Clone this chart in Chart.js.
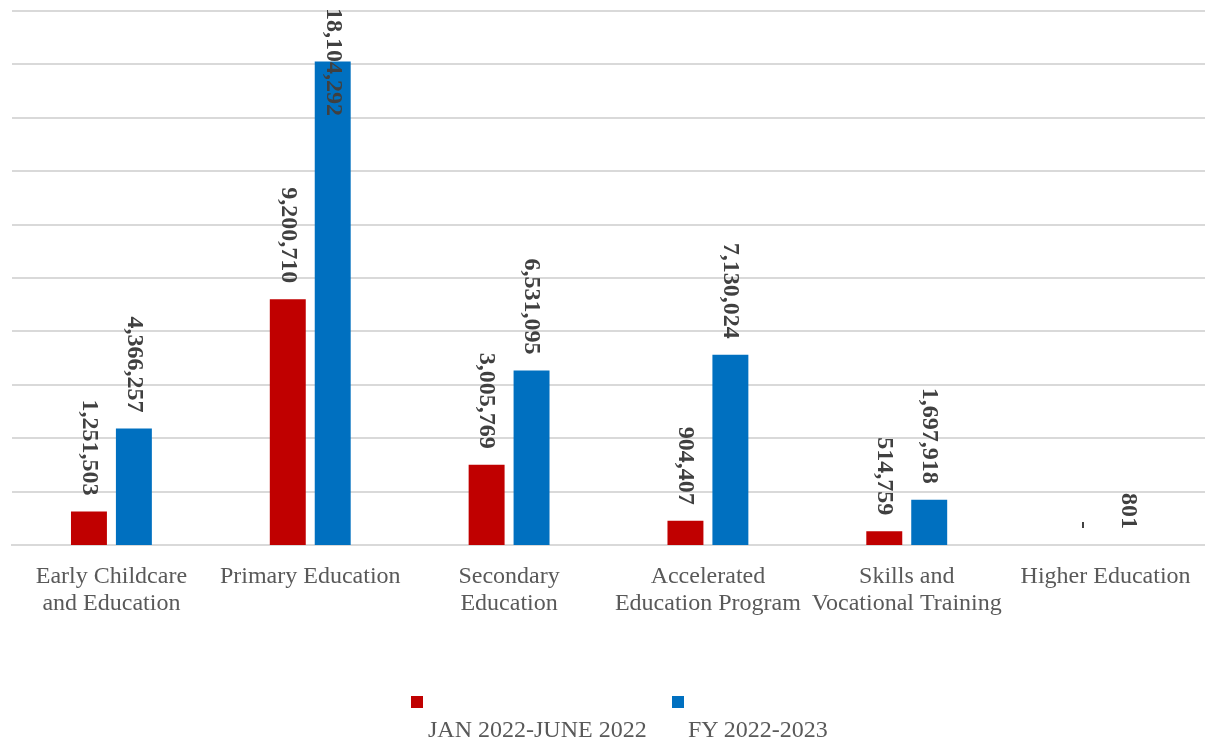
<!DOCTYPE html>
<html>
<head>
<meta charset="utf-8">
<script src="https://cdn.jsdelivr.net/npm/chart.js@4"></script>
<style>
  html, body { margin: 0; padding: 0; background: #fff; }
  #wrap { position: relative; width: 1205px; height: 740px; }
  #c { position: absolute; left: 0; top: 0; }
  .lg-box { position: absolute; width: 12px; height: 12px; }
  .lg-text { position: absolute; font: 24px "Liberation Serif", "Times New Roman", serif; color: #595959; white-space: nowrap; line-height: 24px; }
</style>
</head>
<body>
<div id="wrap">
  <canvas id="c" width="1205" height="740"></canvas>
  <div class="lg-box" style="left:411px;top:696px;background:#C00000"></div>
  <div class="lg-text" style="left:428px;top:717px">JAN 2022-JUNE 2022</div>
  <div class="lg-box" style="left:672px;top:696px;background:#0070C0"></div>
  <div class="lg-text" style="left:688px;top:717px">FY 2022-2023</div>
</div>
<script>
const categories = [
  ["Early Childcare", "and Education"],
  ["Primary Education"],
  ["Secondary", "Education"],
  ["Accelerated", "Education Program"],
  ["Skills and", "Vocational Training"],
  ["Higher Education"]
];
const seriesNames = ["JAN 2022-JUNE 2022", "FY 2022-2023"];
const jan2022 = [1251503, 9200710, 3005769, 904407, 514759, 0];
const fy2022 = [4366257, 18104292, 6531095, 7130024, 1697918, 801];
const yMax = 20000000;
const yStep = 2000000;

const labelFont = 'bold 24px "Liberation Serif", "Times New Roman", serif';

const valueLabels = {
  id: 'valueLabels',
  afterDatasetsDraw(chart) {
    const ctx = chart.ctx;
    ctx.save();
    ctx.font = labelFont;
    ctx.fillStyle = '#404040';
    chart.data.datasets.forEach((ds, di) => {
      const meta = chart.getDatasetMeta(di);
      meta.data.forEach((bar, i) => {
        const v = ds.data[i];
        const txt = v === 0 ? '-' : v.toLocaleString('en-US');
        const w = ctx.measureText(txt).width;
        const gap = 16;
        let endY = bar.y - gap;
        ctx.save();
        if (endY - w < 8) {
          ctx.translate(bar.x, 8);
          ctx.rotate(Math.PI / 2);
          ctx.textAlign = 'left';
        } else {
          ctx.translate(bar.x, endY);
          ctx.rotate(Math.PI / 2);
          ctx.textAlign = 'right';
        }
        ctx.textBaseline = 'middle';
        ctx.fillText(txt, 0, 0);
        ctx.restore();
      });
    });
    ctx.restore();
  }
};

new Chart(document.getElementById('c'), {
  type: 'bar',
  data: {
    labels: categories,
    datasets: [
      { label: seriesNames[0], data: jan2022, backgroundColor: '#C00000',
        categoryPercentage: 0.452, barPercentage: 0.8, inflateAmount: 0 },
      { label: seriesNames[1], data: fy2022, backgroundColor: '#0070C0',
        categoryPercentage: 0.452, barPercentage: 0.8, inflateAmount: 0 }
    ]
  },
  options: {
    responsive: false,
    animation: false,
    layout: { padding: { top: 11, right: 0, left: 0, bottom: 0 } },
    plugins: { legend: { display: false }, tooltip: { enabled: false } },
    scales: {
      x: {
        grid: { display: false, drawTicks: false },
        border: { display: true, color: '#d9d9d9', width: 2 },
        ticks: {
          color: '#595959',
          font: { family: '"Liberation Serif", "Times New Roman", serif', size: 24, lineHeight: 1.13 },
          padding: 18,
          maxRotation: 0, minRotation: 0, autoSkip: false
        },
        afterFit(scale) {
          scale.height = 195;
          scale.paddingLeft = 0;
          scale.paddingRight = 0;
        }
      },
      y: {
        min: 0, max: yMax,
        ticks: { display: false, stepSize: yStep },
        grid: {
          color: '#d9d9d9',
          lineWidth: (c) => (c.tick && c.tick.value === 0 ? 0 : 2),
          drawTicks: false
        },
        border: { display: false },
        afterFit(scale) { scale.width = 12; }
      }
    }
  },
  plugins: [valueLabels]
});
</script>
</body>
</html>
